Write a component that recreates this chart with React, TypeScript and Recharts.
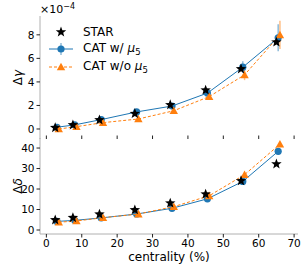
import { ScatterChart, Scatter, XAxis, YAxis, ReferenceArea, ErrorBar, Legend } from 'recharts';

// centrality bins (STAR) and the slightly shifted model points
const centrality = [2.5, 7.5, 15, 25, 35, 45, 55, 65];
const catWithX = [3, 8, 15.5, 25.5, 35.5, 45.5, 55.5, 65.5];
const catWithoutX = [3.5, 8.5, 16, 26, 36, 46, 56, 66];

// Δγ in units of 1e-4
const gammaStar = [0.11, 0.34, 0.77, 1.31, 2.05, 3.3, 5.1, 7.38];
const gammaWith = [0.15, 0.35, 0.8, 1.45, 1.95, 3.05, 5.25, 7.75];
const gammaWithErr = [0.03, 0.04, 0.06, 0.1, 0.15, 0.25, 0.5, 1.15];
const gammaWithout = [0.0, 0.2, 0.54, 0.85, 1.55, 2.75, 4.6, 8.0];
const gammaWithoutErr = [0.03, 0.04, 0.06, 0.1, 0.15, 0.25, 0.45, 1.2];

// Δδ
const deltaStar = [4.9, 6.0, 7.7, 9.8, 13.1, 17.5, 24.0, 32.2];
const deltaWith = [4.2, 4.7, 5.9, 7.8, 10.6, 15.2, 23.7, 38.4];
const deltaWithout = [3.8, 4.4, 6.0, 7.8, 11.4, 16.7, 27.0, 41.9];

const xTicks = [0, 10, 20, 30, 40, 50, 60, 70];
const gammaTicks = [0, 2, 4, 6, 8];
const deltaTicks = [0, 10, 20, 30, 40];

const BLUE = '#1f77b4';
const ORANGE = '#ff7f0e';
const SPINE = '#b0b0b0';
const TICK = '#222';
const FONT = '"DejaVu Sans", sans-serif';

const toPoints = (xs: number[], ys: number[], errs?: number[]) =>
  xs.map((x, i) => ({ x, y: ys[i], err: errs ? errs[i] : 0 }));

const starPath = (cx: number, cy: number, R: number) => {
  const r = R * 0.42;
  let d = '';
  for (let i = 0; i < 10; i++) {
    const a = ((-90 + i * 36) * Math.PI) / 180;
    const rr = i % 2 === 0 ? R : r;
    d += `${i === 0 ? 'M' : 'L'}${cx + rr * Math.cos(a)},${cy + rr * Math.sin(a)}`;
  }
  return d + 'Z';
};

const triPath = (cx: number, cy: number, s: number) =>
  `M${cx},${cy - s}L${cx + s},${cy + s * 0.8}L${cx - s},${cy + s * 0.8}Z`;

const StarShape = (p: any) => <path d={starPath(p.cx, p.cy, 5.5)} fill="#000" />;
const CircleShape = (p: any) => <circle cx={p.cx} cy={p.cy} r={3.6} fill={BLUE} />;
const TriShape = (p: any) => <path d={triPath(p.cx, p.cy, 4.2)} fill={ORANGE} />;

const Mu5 = () => (
  <span>
    <i>μ</i>
    <sub style={{ fontSize: 8.5, verticalAlign: '-3px' }}>5</sub>
  </span>
);

const LegendContent = () => (
  <div style={{ fontSize: 12, color: '#000', fontFamily: FONT }}>
    <div style={{ display: 'flex', alignItems: 'center', height: 16.5 }}>
      <svg width={24} height={16}>
        <path d={starPath(12, 8, 5.5)} fill="#000" />
      </svg>
      <span style={{ marginLeft: 10 }}>STAR</span>
    </div>
    <div style={{ display: 'flex', alignItems: 'center', height: 17.5 }}>
      <svg width={24} height={16}>
        <line x1={0} y1={8} x2={24} y2={8} stroke={BLUE} strokeWidth={1} />
        <line x1={12} y1={2} x2={12} y2={14} stroke="#8fbbd9" strokeWidth={1.5} />
        <circle cx={12} cy={8} r={3.6} fill={BLUE} />
      </svg>
      <span style={{ marginLeft: 10 }}>
        CAT w/ <Mu5 />
      </span>
    </div>
    <div style={{ display: 'flex', alignItems: 'center', height: 17.5 }}>
      <svg width={24} height={16}>
        <line x1={0} y1={8} x2={24} y2={8} stroke={ORANGE} strokeWidth={1} strokeDasharray="3 2" />
        <path d={triPath(12, 8, 4.2)} fill={ORANGE} />
      </svg>
      <span style={{ marginLeft: 10 }}>
        CAT w/o <Mu5 />
      </span>
    </div>
  </div>
);

const yLabel = (first: string, second: string) => (props: any) => {
  const vb = props.viewBox;
  const cx = vb.x + vb.width / 2 - 2;
  const cy = vb.y + vb.height / 2;
  return (
    <text
      x={cx}
      y={cy}
      transform={`rotate(-90, ${cx}, ${cy})`}
      textAnchor="middle"
      dominantBaseline="central"
      fontSize={12}
      fill="#000"
    >
      {first}
      <tspan fontStyle="italic">{second}</tspan>
    </text>
  );
};

const tickStyle = { fontSize: 10.5, fill: '#000' };

export default function App() {
  return (
    <div
      style={{
        position: 'absolute',
        left: 0,
        top: 0,
        width: 304,
        height: 266,
        background: '#fff',
        fontFamily: FONT,
      }}
    >
      <div style={{ position: 'absolute', left: 40, top: 0, fontSize: 11, lineHeight: '14px' }}>
        ×10<sup style={{ fontSize: 8, verticalAlign: '4px' }}>−4</sup>
      </div>

      {/* upper panel: Δγ */}
      <div style={{ position: 'absolute', left: 0, top: 0 }}>
        <ScatterChart width={304} height={139} margin={{ top: 16, right: 6, bottom: 0, left: 0 }}>
          <XAxis
            type="number"
            dataKey="x"
            domain={[-1.8, 71.1]}
            ticks={xTicks}
            height={1}
            mirror
            tick={() => <g />}
            tickSize={3.5}
            tickLine={{ stroke: TICK }}
            axisLine={false}
            allowDataOverflow
          />
          <YAxis
            type="number"
            dataKey="y"
            domain={[-0.85, 9.6]}
            ticks={gammaTicks}
            width={40}
            tickSize={3.5}
            tickMargin={2}
            tick={tickStyle}
            tickLine={{ stroke: TICK }}
            axisLine={{ stroke: SPINE }}
            allowDataOverflow
            label={{ content: yLabel('Δ', 'γ') }}
          />
          <ReferenceArea fill="none" stroke={SPINE} strokeWidth={1} ifOverflow="visible" />
          <Scatter
            data={toPoints(catWithX, gammaWith, gammaWithErr)}
            shape={CircleShape}
            line={{ stroke: BLUE, strokeWidth: 1 }}
            lineType="joint"
            isAnimationActive={false}
          >
            <ErrorBar dataKey="err" direction="y" width={0} stroke="#8fbbd9" strokeWidth={1.5} />
          </Scatter>
          <Scatter
            data={toPoints(catWithoutX, gammaWithout, gammaWithoutErr)}
            shape={TriShape}
            line={{ stroke: ORANGE, strokeWidth: 1, strokeDasharray: '3 2' }}
            lineType="joint"
            isAnimationActive={false}
          >
            <ErrorBar dataKey="err" direction="y" width={0} stroke="#ffbf86" strokeWidth={1.5} />
          </Scatter>
          <Scatter
            data={toPoints(centrality, gammaStar)}
            shape={StarShape}
            isAnimationActive={false}
          />
          <Legend
            layout="horizontal"
            verticalAlign="middle"
            align="center"
            content={LegendContent}
            wrapperStyle={{ left: 49, top: 24, width: 130, height: 52 }}
          />
        </ScatterChart>
      </div>

      {/* lower panel: Δδ */}
      <div style={{ position: 'absolute', left: 0, top: 138 }}>
        <ScatterChart width={304} height={128} margin={{ top: 0, right: 6, bottom: 0, left: 0 }}>
          <XAxis
            type="number"
            dataKey="x"
            domain={[-1.8, 71.1]}
            ticks={xTicks}
            height={32}
            tickSize={3.5}
            tickMargin={2}
            tick={tickStyle}
            tickLine={{ stroke: TICK }}
            axisLine={{ stroke: SPINE }}
            allowDataOverflow
            label={{ value: 'centrality (%)', position: 'insideBottom', offset: 5, fontSize: 12, fill: '#000' }}
          />
          <YAxis
            type="number"
            dataKey="y"
            domain={[-1.95, 44.9]}
            ticks={deltaTicks}
            width={40}
            tickSize={3.5}
            tickMargin={2}
            tick={tickStyle}
            tickLine={{ stroke: TICK }}
            axisLine={{ stroke: SPINE }}
            allowDataOverflow
            label={{ content: yLabel('Δ', 'δ') }}
          />
          <ReferenceArea fill="none" stroke={SPINE} strokeWidth={1} ifOverflow="visible" />
          <Scatter
            data={toPoints(catWithX, deltaWith)}
            shape={CircleShape}
            line={{ stroke: BLUE, strokeWidth: 1 }}
            lineType="joint"
            isAnimationActive={false}
          />
          <Scatter
            data={toPoints(catWithoutX, deltaWithout)}
            shape={TriShape}
            line={{ stroke: ORANGE, strokeWidth: 1, strokeDasharray: '3 2' }}
            lineType="joint"
            isAnimationActive={false}
          />
          <Scatter
            data={toPoints(centrality, deltaStar)}
            shape={StarShape}
            isAnimationActive={false}
          />
        </ScatterChart>
      </div>
    </div>
  );
}
